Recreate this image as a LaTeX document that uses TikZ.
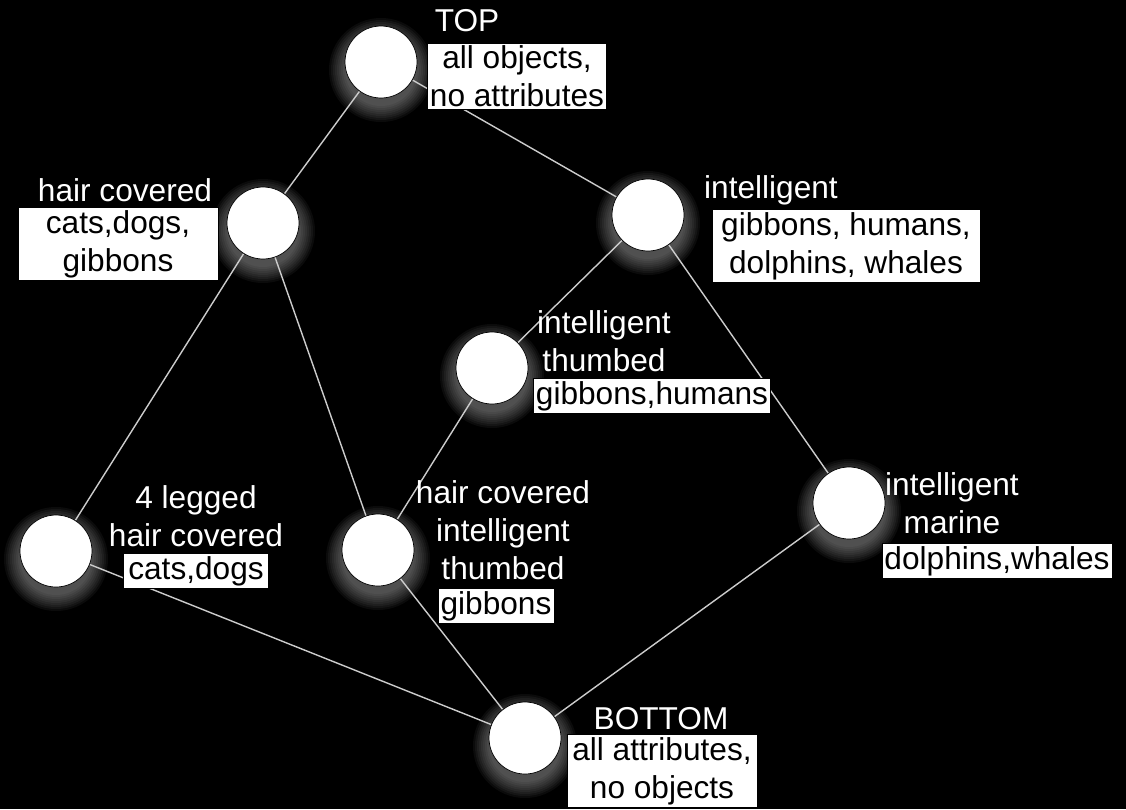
\documentclass[tikz,border=0pt]{standalone}
\usepackage{fontspec}
\setmainfont{Liberation Sans}
\usetikzlibrary{positioning}
\pgfdeclarelayer{bg}
\pgfsetlayers{bg,main}

\begin{document}
\begin{tikzpicture}[x=0.02cm, y=-0.02cm,
    concept/.style={circle, draw=black, thin, fill=white,
        minimum size=1.44cm, inner sep=0pt},
    attr/.style={text=white, align=center, inner sep=0pt,
        font=\fontsize{18}{21.5}\selectfont},
    objs/.style={fill=white, draw=black, thin, text=black, align=center,
        inner xsep=1.5pt, inner ysep=1.5pt, font=\fontsize{18}{21.5}\selectfont},
    edge/.style={draw=white!80!black, line width=0.8pt}
]
    \useasboundingbox (0,0) rectangle (1126,809);
    \begin{pgfonlayer}{bg}
        \fill[black] (0,0) rectangle (1126,809);
    \end{pgfonlayer}

    % lattice nodes
    \node[concept] (T)   at (381,62)  {};
    \node[concept] (H)   at (263,223) {};
    \node[concept] (I)   at (648,215) {};
    \node[concept] (IT)  at (492,368) {};
    \node[concept] (LH)  at (56,551)  {};
    \node[concept] (HIT) at (378,550) {};
    \node[concept] (IM)  at (849,503) {};
    \node[concept] (B)   at (525,738) {};

    % glow and lines behind the nodes
    \begin{pgfonlayer}{bg}
        \foreach \n in {T,H,I,IT,LH,HIT,IM,B}
            \foreach \r in {36,38,...,52}
                \fill[white, opacity=0.045] ([yshift=-0.16cm]\n.center) circle[radius=\r];
        \draw[edge] (T) -- (H);
        \draw[edge] (T) -- (I);
        \draw[edge] (H) -- (LH);
        \draw[edge] (H) -- (HIT);
        \draw[edge] (I) -- (IT);
        \draw[edge] (I) -- (IM);
        \draw[edge] (IT) -- (HIT);
        \draw[edge] (LH) -- (B);
        \draw[edge] (HIT) -- (B);
        \draw[edge] (IM) -- (B);
    \end{pgfonlayer}

    % attributes
    \node[attr] (Ta)   at (467,21)  {TOP};
    \node[attr] (Ha)   at (125,190) {hair covered};
    \node[attr] (Ia)   at (771,190) {intelligent};
    \node[attr] (ITa)  at (604,341) {intelligent\\thumbed};
    \node[attr] (LHa)  at (196,516) {4 legged\\hair covered};
    \node[attr] (HITa) at (503,530) {hair covered\\intelligent\\thumbed};
    \node[attr] (IMa)  at (952,503) {intelligent\\marine};
    \node[attr] (Ba)   at (661,719) {BOTTOM};

    % objects
    \node[objs] (To)   at (517,76)  {all objects,\\no attributes};
    \node[objs, minimum width=4cm] (Ho) at (118,244) {cats,dogs,\\gibbons};
    \node[objs, minimum width=5.36cm] (Io) at (846,246) {gibbons, humans,\\dolphins, whales};
    \node[objs] (ITo)  at (652,396) {gibbons,humans};
    \node[objs, minimum width=2.9cm] (LHo) at (196,571) {cats,dogs};
    \node[objs, minimum width=2.24cm] (HITo) at (496,606) {gibbons};
    \node[objs] (IMo)  at (997,561) {dolphins,whales};
    \node[objs, minimum width=3.8cm] (Bo) at (662,771) {all attributes,\\no objects};
\end{tikzpicture}
\end{document}
